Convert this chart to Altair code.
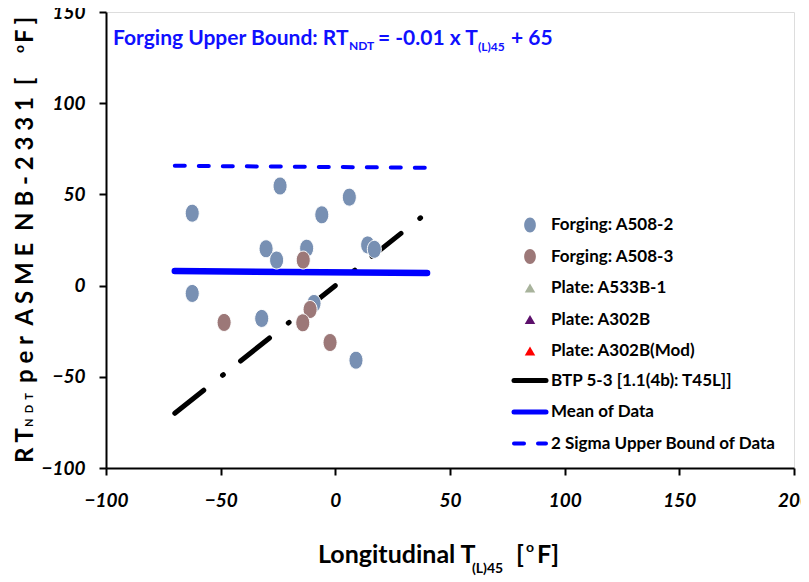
import altair as alt
import pandas as pd

FONT = "Lato, Roboto, sans-serif"
NB = "\u00a0"

# ---------------- data ----------------
a508_2_x = [-62.4, -24.1, 6.1, -5.9, -30.2, -25.6, -12.5, 14.1, 17.0, -62.4, -32.1, -9.3, 9.0]
a508_2_y = [39.7, 54.6, 48.5, 38.8, 20.2, 14.0, 20.5, 22.3, 19.9, -4.3, -18.0, -9.8, -40.9]
a508_3_x = [-14.0, -48.5, -11.0, -14.2, -2.3]
a508_3_y = [14.0, -20.2, -13.1, -20.4, -31.2]

btp_x = [-70, 38]
btp_y = [-70, 38]
mean_x = [-70, 40]
mean_y = [8.0, 6.9]
sigma_x = [-70, 40]
sigma_y = [65.7, 64.6]

x_ticks = [-100, -50, 0, 50, 100, 150, 200]
y_ticks = [-100, -50, 0, 50, 100, 150]

legend_point_labels = ["Forging: A508-2", "Forging: A508-3", "Plate: A533B-1", "Plate: A302B", "Plate: A302B(Mod)"]
legend_point_colors = ["#7890b3", "#9c7878", "#a8b39c", "#5c0f6b", "#ff0000"]
legend_point_shapes = ["ellipse", "ellipse", "triangle-up", "triangle-up", "triangle-up"]
legend_line_labels = ["BTP 5-3 [1.1(4b): T45L]]", "Mean of Data", "2 Sigma Upper Bound of Data"]

ELLIPSE = "M -0.78 0 A 0.78 1 0 1 1 0.78 0 A 0.78 1 0 1 1 -0.78 0 Z"
W, H = 688, 456

xs = alt.Scale(domain=[-100, 200], nice=False, zero=False)
ys = alt.Scale(domain=[-100, 150], nice=False, zero=False)

common_axis = dict(title=None, grid=False, labelFont=FONT, labelFontSize=19,
                   labelFontWeight="bold", labelFontStyle="italic", labelColor="black",
                   domainColor="black", domainWidth=2, tickColor="black", tickWidth=2,
                   tickSize=7, labelFlush=False)
x_axis = alt.Axis(values=x_ticks, labelPadding=16, **common_axis)
y_axis = alt.Axis(values=y_ticks, labelPadding=14, **common_axis)

def line_df(xv, yv):
    return pd.DataFrame({"x": xv, "y": yv})

btp = alt.Chart(line_df(btp_x, btp_y)).mark_line(
    color="black", strokeWidth=5, strokeCap="round", strokeDash=[37, 24, 1, 22]
).encode(x=alt.X("x:Q", scale=xs, axis=x_axis), y=alt.Y("y:Q", scale=ys, axis=y_axis))

mean = alt.Chart(line_df(mean_x, mean_y)).mark_line(
    color="#0000ff", strokeWidth=6.5, strokeCap="round"
).encode(x=alt.X("x:Q", scale=xs), y=alt.Y("y:Q", scale=ys))

sigma = alt.Chart(line_df(sigma_x, sigma_y)).mark_line(
    color="#0000ff", strokeWidth=4, strokeCap="round", strokeDash=[10, 14]
).encode(x=alt.X("x:Q", scale=xs), y=alt.Y("y:Q", scale=ys))

def points(xv, yv, color):
    return alt.Chart(line_df(xv, yv)).mark_point(
        shape=ELLIPSE, filled=True, size=324, color=color, opacity=1,
        stroke="white", strokeWidth=1
    ).encode(x=alt.X("x:Q", scale=xs), y=alt.Y("y:Q", scale=ys))

pts2 = points(a508_2_x, a508_2_y, legend_point_colors[0])
pts3 = points(a508_3_x, a508_3_y, legend_point_colors[1])

one = pd.DataFrame({"d": [0]})

def txt(s, x, y, size, color="black", angle=0, baseline="alphabetic", style="normal"):
    return alt.Chart(one).mark_text(
        text=s, font=FONT, fontSize=size, fontWeight="bold", fontStyle=style, color=color,
        align="left", baseline=baseline, angle=angle
    ).encode(x=alt.value(x), y=alt.value(y))

def spaced(s, gap=1, word_gap=2):
    """Letter-spaced text using non-breaking spaces (which are not collapsed)."""
    out = []
    for w_i, word in enumerate(s.split(" ")):
        if w_i:
            out.append(NB * word_gap)
        out.append((NB * gap).join(list(word)))
    return "".join(out)

layers = [btp, mean, sigma, pts2, pts3]

# ---- legend (drawn inside the plot area) ----
LEG_SYM_X = 424
LEG_TXT_X = 445
LEG_Y0 = 213
LEG_STEP = 31.5
for i, (lab, col, shp) in enumerate(zip(legend_point_labels, legend_point_colors, legend_point_shapes)):
    yy = LEG_Y0 + i * LEG_STEP
    if shp == "ellipse":
        sym = alt.Chart(one).mark_point(shape=ELLIPSE, filled=True, size=225, color=col, opacity=1)
    else:
        sym = alt.Chart(one).mark_point(shape="triangle-up", filled=True, size=110, color=col, opacity=1)
    layers.append(sym.encode(x=alt.value(LEG_SYM_X), y=alt.value(yy)))
    layers.append(txt(lab, LEG_TXT_X, yy, 17, baseline="middle"))

line_styles = [
    dict(color="black", strokeWidth=5, strokeCap="round"),
    dict(color="#0000ff", strokeWidth=5, strokeCap="round"),
    dict(color="#0000ff", strokeWidth=4, strokeCap="round", strokeDash=[10, 14]),
]
for j, (lab, st) in enumerate(zip(legend_line_labels, line_styles)):
    yy = LEG_Y0 + (5 + j) * LEG_STEP - 2
    layers.append(alt.Chart(one).mark_rule(**st).encode(
        x=alt.value(LEG_SYM_X - 16), x2=alt.value(LEG_TXT_X - 5), y=alt.value(yy)))
    layers.append(txt(lab, LEG_TXT_X, yy, 17, baseline="middle"))

# ---- in-plot formula title ----
BLUE = "#1010ff"
layers += [
    txt("Forging Upper Bound:" + NB + "RT", 7, 33, 21, BLUE),
    txt("NDT", 243, 38, 12, BLUE),
    txt("= -0.01 x T", 272, 33, 21, BLUE),
    txt("(L)45", 372, 39, 12, BLUE),
    txt("+ 65", 405, 33, 21, BLUE),
]

# ---- y axis title (rotated) ----
layers += [
    txt(spaced("RT"), -73, 451, 24, angle=270),
    txt(spaced("NDT", gap=2), -73, 415, 11, angle=270),
    txt(spaced("per ASME NB-2331 ["), -73, 371, 24, angle=270),
    txt("o", -82, 41, 14, angle=270),
    txt(spaced("F]"), -73, 31, 24, angle=270),
]

# ---- x axis title ----
layers += [
    txt("Longitudinal T", 212, 551, 25),
    txt("(L)45", 366, 561, 14),
    txt("[", 410, 551, 25),
    txt("o", 420, 540, 14),
    txt("F]", 431, 551, 25),
]

chart = alt.layer(*layers).properties(
    width=W, height=H,
    autosize=alt.AutoSizeParams(type="none"),
    padding={"left": 98, "top": 4, "right": 7, "bottom": 110},
).configure_view(stroke="black", strokeWidth=2).configure(background="white")

chart.save("out.html", embed_options={"renderer": "svg", "actions": False})
